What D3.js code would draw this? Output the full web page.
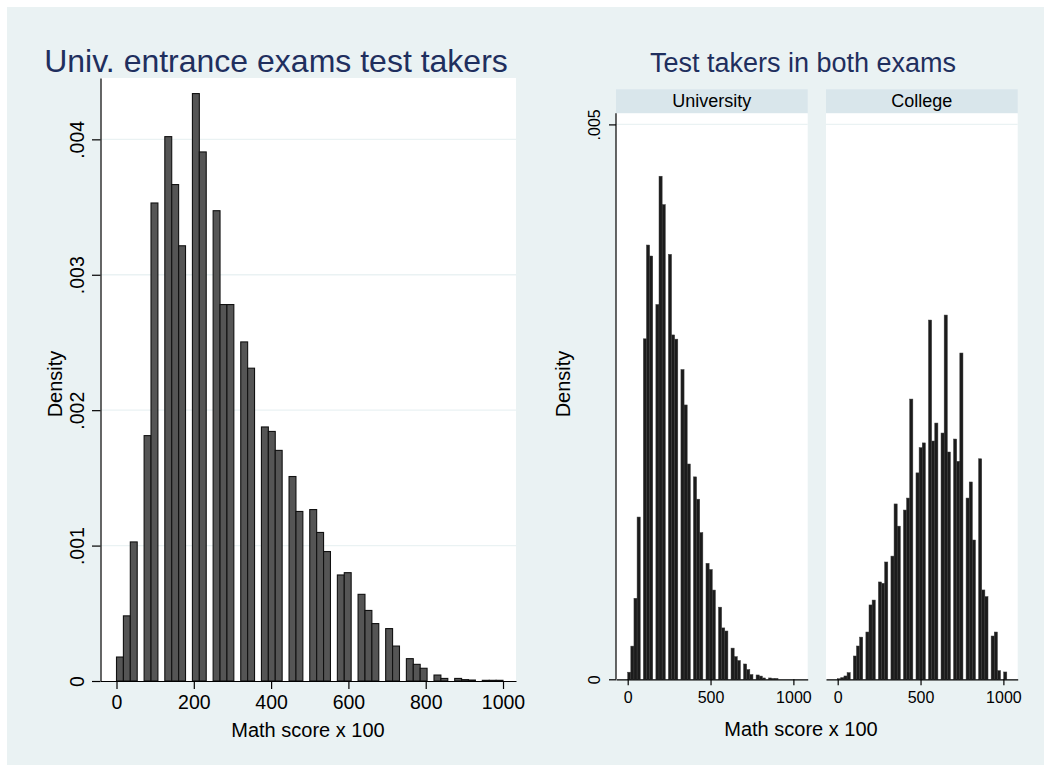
<!DOCTYPE html>
<html>
<head>
<meta charset="utf-8">
<script src="https://cdn.jsdelivr.net/npm/d3@7"></script>
<style>
  html, body { margin: 0; padding: 0; background: #ffffff; }
  svg { display: block; font-family: "Liberation Sans", Arial, Helvetica, sans-serif; }
</style>
</head>
<body>
<svg id="chart" width="1051" height="772"></svg>
<script>
// ---- Histogram data: density per bin (math score x 100) ----
// All university entrance exam takers: 56 bins of equal width starting at 0
const allBinWidth = 17.857;
const allDensity = [
  0.000177, 0.000481, 0.001027, 0, 0.001812, 0.00353, 0, 0.00402, 0.003666, 0.003214,
  0, 0.004338, 0.003907, 0, 0.003473, 0.00278, 0.00278, 0, 0.002504, 0.00231,
  0, 0.001876, 0.001843, 0.001703, 0, 0.00151, 0.001252, 0, 0.001266, 0.001097,
  0.000956, 0, 0.000783, 0.0008, 0, 0.00064, 0.000521, 0.000424, 0, 0.000387,
  0.000258, 0, 0.000165, 0.000123, 0.000094, 0, 0.000044, 0.000019, 0, 0.000019,
  0.00001, 0.000007, 0, 0.000005, 0.000005, 0.000005
];

// Takers of both exams: 54 bins of equal width starting at 0
const bothBinWidth = 18.9;
const universityDensity = [
  0.000064, 0.000299, 0.00073, 0.001462, 0, 0.003068, 0.003913, 0.003814, 0, 0.003377,
  0.004533, 0.004277, 0, 0.003829, 0.003103, 0.003065, 0, 0.002791, 0.002472, 0.00194,
  0, 0.001824, 0.001623, 0.001322, 0, 0.001045, 0.000989, 0.000804, 0, 0.00065,
  0.000463, 0.000435, 0, 0.000281, 0.000204, 0.000169, 0, 0.000138, 0.000088, 0.000043,
  0, 0.000039, 0.000029, 0.000012, 0, 0.000012, 0.000008, 0.000008, 0, 0,
  0, 0, 0, 0
];
const collegeDensity = [
  0.000005, 0.000015, 0.00003, 0.00006, 0, 0.00021, 0.0003, 0.00038, 0, 0.000426,
  0.00067, 0.000714, 0, 0.000877, 0.000865, 0.001057, 0, 0.00111, 0.00158, 0.00138,
  0, 0.001525, 0.001633, 0.002525, 0, 0.00186, 0.002087, 0.00213, 0, 0.003237,
  0.002147, 0.002309, 0, 0.002219, 0.003282, 0.002048, 0, 0.002165, 0.001964, 0.00294,
  0, 0.001633, 0.001778, 0.001255, 0, 0.001987, 0.000805, 0.000745, 0, 0.00039,
  0.000426, 0.000078, 0, 0.000066
];

// Axis ticks and labels
const allXTicks = [0, 200, 400, 600, 800, 1000];
const allYTicks = [0, 0.001, 0.002, 0.003, 0.004];
const bothXTicks = [0, 500, 1000];
const bothYTicks = [0, 0.005];
const panelNames = ["University", "College"];
const leftTitle = "Univ. entrance exams test takers";
const rightTitle = "Test takers in both exams";
const xTitle = "Math score x 100";
const yTitle = "Density";

// ---- Drawing ----
const svg = d3.select("#chart");
const BG = "#eaf2f3", STRIP = "#d9e6eb", GRID = "#eaf2f3", TITLE = "#1f2f5e";
const fmtDensity = d => d === 0 ? "0" : d3.format(".3f")(d).replace(/^0/, "");

svg.append("rect").attr("x", 7).attr("y", 7).attr("width", 1037).attr("height", 758).attr("fill", BG);

function bins(values, width) {
  return values.map((v, i) => ({ x0: i * width, x1: (i + 1) * width, v }));
}

// Rotated y tick labels
function rotateYLabels(g, offset) {
  g.selectAll(".tick text")
    .attr("transform", "rotate(-90)")
    .attr("x", 0).attr("y", -offset).attr("dy", 0)
    .attr("text-anchor", "middle");
}
function styleAxis(g, size) {
  g.selectAll("path.domain").attr("stroke", "#000").attr("stroke-width", 1.2);
  g.selectAll(".tick line").attr("stroke", "#000").attr("stroke-width", 1.2);
  g.selectAll(".tick text").attr("fill", "#000").style("font-size", size + "px")
    .style("font-family", "'Liberation Sans', Arial, sans-serif");
}

// ===== Left graph =====
{
  const L = 100.5, R = 516, T = 78, B = 681;
  const x = d3.scaleLinear().domain([-41.4, 1033.6]).range([L, R]);
  const y = d3.scaleLinear().domain([0, 0.004453]).range([B, T]);

  svg.append("rect").attr("x", L).attr("y", T).attr("width", R - L).attr("height", B - T).attr("fill", "#fff");
  svg.append("g").selectAll("line").data(allYTicks.filter(d => d > 0)).join("line")
    .attr("x1", L).attr("x2", R).attr("y1", d => y(d)).attr("y2", d => y(d))
    .attr("stroke", GRID).attr("stroke-width", 1.4);

  svg.append("g").selectAll("rect").data(bins(allDensity, allBinWidth).filter(d => d.v > 0)).join("rect")
    .attr("x", d => x(d.x0)).attr("width", d => x(d.x1) - x(d.x0))
    .attr("y", d => y(d.v)).attr("height", d => B - y(d.v))
    .attr("fill", "#555555").attr("stroke", "#111").attr("stroke-width", 1.1);

  const gx = svg.append("g").attr("transform", `translate(0,${B})`)
    .call(d3.axisBottom(x).tickValues(allXTicks).tickSize(8).tickSizeOuter(0).tickPadding(6).tickFormat(d3.format("d")));
  styleAxis(gx, 19.5);
  const gy = svg.append("g").attr("transform", `translate(${L},0)`)
    .call(d3.axisLeft(y).tickValues(allYTicks).tickSize(8.5).tickSizeOuter(0).tickFormat(fmtDensity));
  styleAxis(gy, 19.5);
  rotateYLabels(gy, 16.5);

  svg.append("text").attr("x", 308).attr("y", 736.5).attr("text-anchor", "middle")
    .style("font-size", "20px").attr("fill", "#000").text(xTitle);
  svg.append("text").attr("transform", `translate(62,384) rotate(-90)`).attr("text-anchor", "middle")
    .style("font-size", "20px").attr("fill", "#000").text(yTitle);
  svg.append("text").attr("x", 276).attr("y", 72).attr("text-anchor", "middle")
    .style("font-size", "32px").attr("fill", TITLE).text(leftTitle);
}

// ===== Right graph: one panel per exam =====
{
  const T = 113.3, B = 679.3, stripTop = 89.3;
  const panels = [
    { name: panelNames[0], L: 616, R: 807.7, data: universityDensity, yAxis: true },
    { name: panelNames[1], L: 826, R: 1017.7, data: collegeDensity, yAxis: false }
  ];
  const y = d3.scaleLinear().domain([0, 0.0051]).range([B, T]);

  panels.forEach(p => {
    const x = d3.scaleLinear().domain([-70.6, 1086.4]).range([p.L, p.R]);
    svg.append("rect").attr("x", p.L).attr("y", stripTop).attr("width", p.R - p.L).attr("height", T - stripTop).attr("fill", STRIP);
    svg.append("text").attr("x", (p.L + p.R) / 2).attr("y", 106.7).attr("text-anchor", "middle")
      .style("font-size", "18px").attr("fill", "#000").text(p.name);
    svg.append("rect").attr("x", p.L).attr("y", T).attr("width", p.R - p.L).attr("height", B - T).attr("fill", "#fff");
    svg.append("g").selectAll("line").data(bothYTicks.filter(d => d > 0)).join("line")
      .attr("x1", p.L).attr("x2", p.R).attr("y1", d => y(d)).attr("y2", d => y(d))
      .attr("stroke", GRID).attr("stroke-width", 1.4);

    svg.append("g").selectAll("rect").data(bins(p.data, bothBinWidth).filter(d => d.v > 0)).join("rect")
      .attr("x", d => x(d.x0)).attr("width", d => x(d.x1) - x(d.x0))
      .attr("y", d => y(d.v)).attr("height", d => B - y(d.v))
      .attr("fill", "#1b1b1b").attr("stroke", "#3a3a3a").attr("stroke-width", 0.5);

    const gx = svg.append("g").attr("transform", `translate(0,${B})`)
      .call(d3.axisBottom(x).tickValues(bothXTicks).tickSize(6).tickSizeOuter(0).tickPadding(6).tickFormat(d3.format("d")));
    styleAxis(gx, 16);

    if (p.yAxis) {
      const gy = svg.append("g").attr("transform", `translate(${p.L},0)`)
        .call(d3.axisLeft(y).tickValues(bothYTicks).tickSize(7).tickSizeOuter(0).tickFormat(fmtDensity));
      gy.select("path.domain").attr("d", `M0,${T}V${B}`);
      styleAxis(gy, 16);
      rotateYLabels(gy, 16);
    }
  });

  svg.append("text").attr("x", 801).attr("y", 736).attr("text-anchor", "middle")
    .style("font-size", "20px").attr("fill", "#000").text(xTitle);
  svg.append("text").attr("transform", `translate(570,384) rotate(-90)`).attr("text-anchor", "middle")
    .style("font-size", "20px").attr("fill", "#000").text(yTitle);
  svg.append("text").attr("x", 803).attr("y", 72).attr("text-anchor", "middle")
    .style("font-size", "27px").attr("fill", TITLE).text(rightTitle);
}
</script>
</body>
</html>
